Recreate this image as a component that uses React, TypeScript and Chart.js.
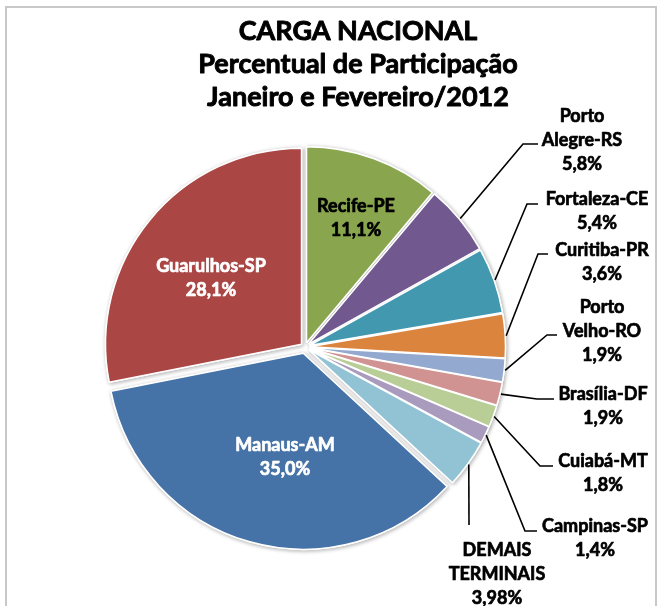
import React, { useEffect, useRef } from 'react';
import { Chart, registerables } from 'chart.js';

Chart.register(...registerables);

// ---------- data ----------
const titleLines = ['CARGA NACIONAL', 'Percentual de Participação', 'Janeiro e Fevereiro/2012'];
const categories = [
  'Recife-PE', 'Porto Alegre-RS', 'Fortaleza-CE', 'Curitiba-PR', 'Porto Velho-RO',
  'Brasília-DF', 'Cuiabá-MT', 'Campinas-SP', 'DEMAIS TERMINAIS', 'Manaus-AM', 'Guarulhos-SP',
];
const categoryLines = [
  ['Recife-PE'], ['Porto', 'Alegre-RS'], ['Fortaleza-CE'], ['Curitiba-PR'], ['Porto', 'Velho-RO'],
  ['Brasília-DF'], ['Cuiabá-MT'], ['Campinas-SP'], ['DEMAIS', 'TERMINAIS'], ['Manaus-AM'], ['Guarulhos-SP'],
];
const shares = [11.1, 5.8, 5.4, 3.6, 1.9, 1.9, 1.8, 1.4, 3.98, 35.0, 28.1];

// ---------- style / layout ----------
const colors = [
  '#89A54E', '#71588F', '#4198AF', '#DB843D', '#93A9CF',
  '#D19392', '#B9CD96', '#A99BBD', '#92C3D5', '#4572A7', '#AA4643',
];
const explode = [4.5, 4.5, 4.5, 4.5, 4.5, 4.5, 4.5, 4.5, 4.5, 6.5, 4.5];
const FONT = 'Lato, "Open Sans", sans-serif';
const TITLE_SIZE = 27;
const LABEL_SIZE = 18;
const LINE_H = 24;

type LabelLayout = { x: number; y: number; color: string; knee?: number[][] };
const labelLayout: LabelLayout[] = [
  { x: 356, y: 206, color: '#000' },
  { x: 582, y: 116, color: '#000', knee: [[523, 144], [538, 144]] },
  { x: 597, y: 199, color: '#000', knee: [[527, 204], [538, 204]] },
  { x: 602, y: 250, color: '#000', knee: [[538, 254], [548, 254]] },
  { x: 602, y: 307, color: '#000', knee: [[547, 335], [557, 335]] },
  { x: 603, y: 394, color: '#000', knee: [[537, 399], [554, 399]] },
  { x: 603, y: 461, color: '#000', knee: [[540, 466], [553, 466]] },
  { x: 595, y: 526, color: '#000', knee: [[525, 531], [537, 531]] },
  { x: 497, y: 550, color: '#000', knee: [[469, 525]] },
  { x: 285, y: 445, color: '#fff' },
  { x: 211, y: 266, color: '#fff' },
];

const fmt = (v: number) => {
  const oneDec = Math.abs(Math.round(v * 10) - v * 10) < 1e-9;
  return (oneDec ? v.toFixed(1) : v.toFixed(2)).replace('.', ',') + '%';
};

const boldText = (ctx: CanvasRenderingContext2D, t: string, x: number, y: number, color: string, w: number) => {
  ctx.fillStyle = color;
  ctx.strokeStyle = color;
  ctx.lineWidth = w;
  ctx.lineJoin = 'round';
  ctx.strokeText(t, x, y);
  ctx.fillText(t, x, y);
};

const piePlugin = {
  id: 'pieCustom',
  beforeDatasetDraw(chart: any, args: any) {
    const ctx = chart.ctx as CanvasRenderingContext2D;
    const arcs = args.meta.data;
    const place = (arc: any, i: number) => {
      const { startAngle, endAngle } = arc.getProps(['startAngle', 'endAngle'], true);
      const mid = (startAngle + endAngle) / 2;
      ctx.translate(Math.cos(mid) * explode[i], Math.sin(mid) * explode[i]);
    };
    // shadow pass
    arcs.forEach((arc: any, i: number) => {
      ctx.save();
      ctx.shadowColor = 'rgba(0,0,0,0.30)';
      ctx.shadowBlur = 4;
      ctx.shadowOffsetX = 1;
      ctx.shadowOffsetY = 1;
      place(arc, i);
      arc.draw(ctx);
      ctx.restore();
    });
    // clean pass
    arcs.forEach((arc: any, i: number) => {
      ctx.save();
      place(arc, i);
      arc.draw(ctx);
      ctx.restore();
    });
    return false;
  },
  afterDraw(chart: any) {
    const ctx = chart.ctx as CanvasRenderingContext2D;
    ctx.save();
    // chart frame
    ctx.strokeStyle = '#c8c8c8';
    ctx.lineWidth = 2;
    ctx.strokeRect(6, 7, 650, 640);

    // title
    ctx.textAlign = 'center';
    ctx.textBaseline = 'alphabetic';
    ctx.font = `bold ${TITLE_SIZE}px ${FONT}`;
    titleLines.forEach((t, k) => boldText(ctx, t, 358, 40 + k * 33, '#000', 0.9));

    // labels + leader lines
    const arcs = chart.getDatasetMeta(0).data;
    ctx.font = `bold ${LABEL_SIZE}px ${FONT}`;
    ctx.textBaseline = 'middle';
    arcs.forEach((arc: any, i: number) => {
      const L = labelLayout[i];
      if (L.knee) {
        const { x, y, startAngle, endAngle, outerRadius } = arc.getProps(
          ['x', 'y', 'startAngle', 'endAngle', 'outerRadius'], true);
        const mid = (startAngle + endAngle) / 2;
        const r = outerRadius + explode[i] + 1;
        ctx.beginPath();
        ctx.moveTo(x + Math.cos(mid) * r, y + Math.sin(mid) * r);
        L.knee.forEach((p) => ctx.lineTo(p[0], p[1]));
        ctx.strokeStyle = '#000';
        ctx.lineWidth = 1.6;
        ctx.lineJoin = 'miter';
        ctx.stroke();
      }
      const lines = [...categoryLines[i], fmt(shares[i])];
      lines.forEach((t, k) => boldText(ctx, t, L.x, L.y + k * LINE_H, L.color, 0.7));
    });
    ctx.restore();
  },
};

export default function App() {
  const ref = useRef<HTMLCanvasElement | null>(null);
  useEffect(() => {
    if (!ref.current) return;
    const chart = new Chart(ref.current, {
      type: 'pie',
      data: {
        labels: categories,
        datasets: [{
          data: shares,
          backgroundColor: colors,
          borderColor: '#ffffff',
          borderWidth: 1.5,
        }],
      },
      options: {
        responsive: false,
        animation: false,
        radius: 196,
        layout: { padding: { top: 88, left: 0, right: 48, bottom: 0 } },
        plugins: { legend: { display: false }, tooltip: { enabled: false }, title: { display: false } },
        events: [],
      } as any,
      plugins: [piePlugin],
    });
    return () => chart.destroy();
  }, []);
  return (
    <div style={{ position: 'absolute', left: 0, top: 0, width: 658, height: 606, background: '#fff' }}>
      <canvas ref={ref} width={658} height={606} />
    </div>
  );
}
